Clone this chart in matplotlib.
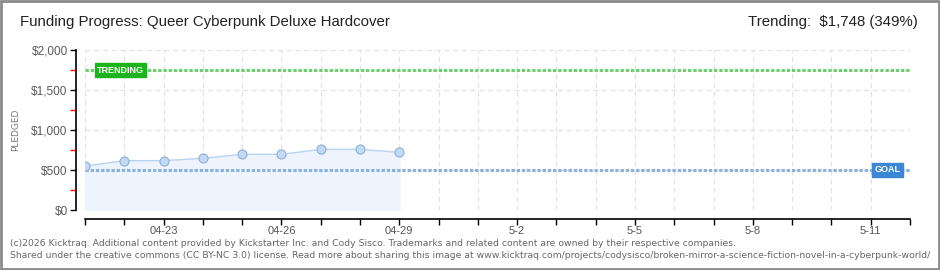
# kicktraq-style funding progress chart
import numpy as np
import matplotlib.pyplot as plt
from matplotlib.ticker import FixedLocator, FuncFormatter

# ---------- data ----------
DAYS      = np.arange(22)                      # 04-21 .. 5-12
DATA_DAYS = np.arange(9)                       # 04-21 .. 04-29
PLEDGED   = [550, 617, 617, 646, 696, 696, 758, 758, 721]
GOAL      = 500
TRENDING  = 1748
DAY_LABELS = ["04-21", "04-22", "04-23", "04-24", "04-25", "04-26", "04-27",
              "04-28", "04-29", "4-30", "5-1", "5-2", "5-3", "5-4", "5-5",
              "5-6", "5-7", "5-8", "5-9", "5-10", "5-11", "5-12"]
LABELED_DAYS = [2, 5, 8, 11, 14, 17, 20]
Y_MAJOR = [0, 500, 1000, 1500, 2000]
Y_MINOR = [250, 750, 1250, 1750]

TITLE = "Funding Progress: Queer Cyberpunk Deluxe Hardcover"
TREND_TXT = "Trending:  $1,748 (349%)"
FOOT1 = ("(c)2026 Kicktraq. Additional content provided by Kickstarter Inc. and Cody Sisco. "
         "Trademarks and related content are owned by their respective companies.")
FOOT2 = ("Shared under the creative commons (CC BY-NC 3.0) license. Read more about sharing this image at "
         "www.kicktraq.com/projects/codysisco/broken-mirror-a-science-fiction-novel-in-a-cyberpunk-world/")

# ---------- style ----------
narrow = ["Liberation Sans", "DejaVu Sans"]
fill_c, line_c = "#edf4fd", "#b9d3f1"
mk_face, mk_edge = "#c3daf5", "#8eafd9"
goal_c, trend_c = "#8cb2de", "#6fcf6f"

fig = plt.figure(figsize=(9.4, 2.7), dpi=100)
W, H = 940, 270
ax = fig.add_axes([85 / W, 1 - 210 / H, (910 - 85) / W, 160 / H])

ax.set_xlim(0, 21)
ax.set_ylim(0, 2000)

# grid
for d in DAYS:
    ax.axvline(d, color="#e2e2e2", lw=0.9, ls=(0, (4, 3)), zorder=0)
for v in Y_MAJOR:
    ax.axhline(v, color="#e2e2e2", lw=0.9, ls=(0, (4, 3)), zorder=0)

# pledged area
ax.fill_between(DATA_DAYS, 0, PLEDGED, color=fill_c, zorder=1)
ax.plot(DATA_DAYS, PLEDGED, color=line_c, lw=1.0, zorder=2)
ax.plot(DATA_DAYS, PLEDGED, ls="none", marker="o", ms=6.5,
        mfc=mk_face, mec=mk_edge, mew=0.8, zorder=4)

# goal and trending lines
ax.axhline(GOAL, color=goal_c, lw=2.2, ls=(0, (1.1, 0.6)), zorder=3)
ax.axhline(TRENDING, color=trend_c, lw=2.2, ls=(0, (1.1, 0.6)), zorder=3)

ax.text(0.3, TRENDING, "TRENDING", color="white", fontsize=6.5, weight="bold",
        family=narrow, va="center", ha="left", zorder=5,
        bbox=dict(boxstyle="square,pad=0.25", fc="#1db31d", ec="#1db31d"))
ax.text(20.1, GOAL, "GOAL", color="white", fontsize=6.5, weight="bold",
        family=narrow, va="center", ha="left", zorder=5,
        bbox=dict(boxstyle="square,pad=0.3", fc="#3b87d6", ec="#3b87d6"))

# axes / ticks
for s in ["top", "right"]:
    ax.spines[s].set_visible(False)
ax.spines["left"].set_position(("outward", 6.5))
ax.spines["bottom"].set_position(("outward", 6.5))
ax.spines["left"].set_linewidth(1.2)
ax.spines["bottom"].set_linewidth(1.2)

ax.yaxis.set_major_locator(FixedLocator(Y_MAJOR))
ax.yaxis.set_minor_locator(FixedLocator(Y_MINOR))
ax.yaxis.set_major_formatter(FuncFormatter(lambda v, p: f"${int(v):,}"))
ax.tick_params(axis="y", which="major", length=4, width=1, colors="black",
               labelcolor="#5a5a5a", labelsize=8.5, pad=2)
ax.tick_params(axis="y", which="minor", length=4, width=1, colors="red")

ax.xaxis.set_major_locator(FixedLocator(LABELED_DAYS))
ax.xaxis.set_minor_locator(FixedLocator([d for d in DAYS if d not in LABELED_DAYS]))
ax.set_xticklabels([DAY_LABELS[d] for d in LABELED_DAYS])
ax.tick_params(axis="x", which="both", length=4, width=1, colors="black",
               labelcolor="#555555", labelsize=8, pad=1)
for lab in ax.get_xticklabels() + ax.get_yticklabels():
    lab.set_family(narrow)

ax.set_ylabel("PLEDGED", fontsize=6.5, color="#777777", labelpad=8)

# titles
fig.text(20 / W, 1 - 22 / H, TITLE, fontsize=10.8, family=narrow,
         color="#222222", va="center", ha="left")
fig.text(918 / W, 1 - 22 / H, TREND_TXT, fontsize=10.8, family=narrow,
         color="#222222", va="center", ha="right")

# footer
fig.text(10 / W, 1 - 243 / H, FOOT1, fontsize=6.7, color="#666666", va="center")
fig.text(10 / W, 1 - 256 / H, FOOT2, fontsize=6.7, color="#666666", va="center")

# frame
fig.patches.append(plt.Rectangle((0.001, 0.002), 0.998, 0.996, transform=fig.transFigure,
                                 fill=False, ec="#8a8a8a", lw=2))

plt.savefig("out.png", dpi=100)
